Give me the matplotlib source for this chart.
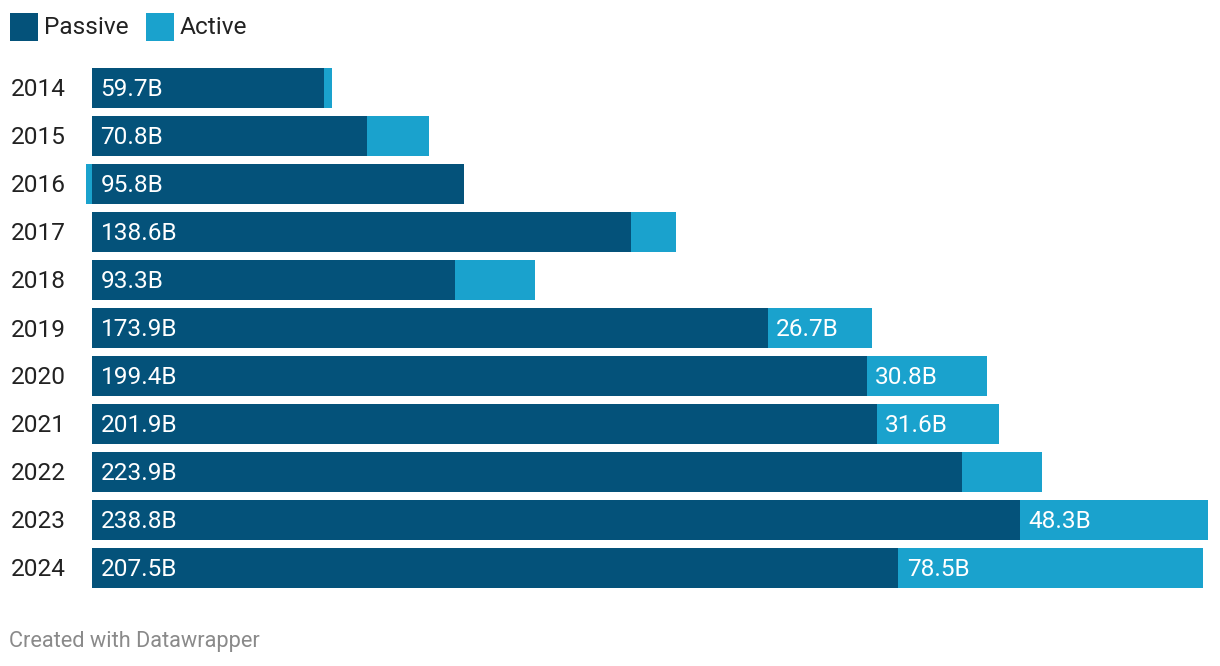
import matplotlib
matplotlib.use("Agg")
import matplotlib.pyplot as plt
from matplotlib.patches import Rectangle

years = ["2014", "2015", "2016", "2017", "2018", "2019", "2020", "2021", "2022", "2023", "2024"]
passive = [59.7, 70.8, 95.8, 138.6, 93.3, 173.9, 199.4, 201.9, 223.9, 238.8, 207.5]
active = [2.0, 16.0, -1.5, 11.8, 20.6, 26.7, 30.8, 31.6, 20.6, 48.3, 78.5]
active_labels = ["", "", "", "", "", "26.7B", "30.8B", "31.6B", "", "48.3B", "78.5B"]

C_PASS = "#04527a"
C_ACT = "#1aa2cd"
FONT = "Roboto"
FS = 17.6

W, H = 1220, 666
fig = plt.figure(figsize=(W / 100, H / 100), dpi=100)

# axes in pixel coords
ax_l, ax_r, ax_t, ax_b = 80, 1212, 64, 592
ax = fig.add_axes([ax_l / W, 1 - ax_b / H, (ax_r - ax_l) / W, (ax_b - ax_t) / H])
scale = 3.886  # px per B
zero_px = 92
ax.set_xlim(-(zero_px - ax_l) / scale, (ax_r - zero_px) / scale)
ax.set_ylim(10.5, -0.5)
ax.axis("off")

ys = list(range(len(years)))
h = 40 / 48
ax.barh(ys, passive, height=h, color=C_PASS, linewidth=0)
lefts = [p if a >= 0 else 0 for p, a in zip(passive, active)]
ax.barh(ys, active, left=lefts, height=h, color=C_ACT, linewidth=0)

off = 8.5 / scale
dy = 2 / 48
for y, p, a, lab in zip(ys, passive, active, active_labels):
    ax.text(off, y + dy, f"{p:.1f}B", color="white", fontsize=FS, family=FONT,
            va="center", ha="left")
    if lab:
        ax.text(p + off, y + dy, lab, color="white", fontsize=FS, family=FONT,
                va="center", ha="left")

for y, yr in zip(ys, years):
    ypx = 90 + 48 * y
    fig.text(11 / W, 1 - ypx / H, yr, fontsize=FS, family=FONT, color="#222222",
             va="center", ha="left")

# legend
fig.patches.append(Rectangle((10 / W, 1 - 41 / H), 28 / W, 28 / H, transform=fig.transFigure,
                             color=C_PASS, linewidth=0))
fig.text(44 / W, 1 - 28 / H, "Passive", fontsize=FS, family=FONT, color="#222222",
         va="center", ha="left")
fig.patches.append(Rectangle((146 / W, 1 - 41 / H), 28 / W, 28 / H, transform=fig.transFigure,
                             color=C_ACT, linewidth=0))
fig.text(180 / W, 1 - 28 / H, "Active", fontsize=FS, family=FONT, color="#222222",
         va="center", ha="left")

fig.text(9 / W, 1 - 641 / H, "Created with Datawrapper", fontsize=15.7, family=FONT,
         color="#8a8a8a", va="center", ha="left")

fig.savefig("out.png", dpi=100, facecolor="white")
